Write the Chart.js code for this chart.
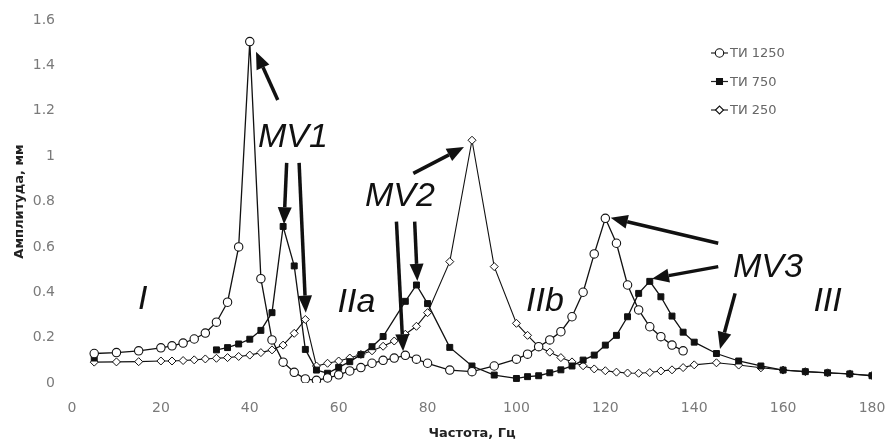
<!DOCTYPE html>
<html>
<head>
<meta charset="utf-8">
<script src="https://cdn.jsdelivr.net/npm/chart.js@4.4.0/dist/chart.umd.min.js"></script>
<style>
  html, body { margin: 0; padding: 0; background: #fff; }
  #wrap { width: 887px; height: 448px; }
</style>
</head>
<body>
<div id="wrap"><canvas id="chart" width="887" height="448"></canvas></div>
<script>
// series (frequency, Hz / amplitude, mm)
const freq1250 = [5, 10, 15, 20, 22.5, 25, 27.5, 30, 32.5, 35, 37.5, 40, 42.5, 45, 47.5, 50,
  52.5, 55, 57.5, 60, 62.5, 65, 67.5, 70, 72.5, 75, 77.5, 80, 85, 90, 95, 100,
  102.5, 105, 107.5, 110, 112.5, 115, 117.5, 120, 122.5, 125, 127.5, 130, 132.5, 135, 137.5];
const amp1250 = [0.13, 0.134, 0.142, 0.155, 0.164, 0.176, 0.194, 0.22, 0.268, 0.356, 0.60, 1.505, 0.46, 0.19, 0.092, 0.047,
  0.018, 0.012, 0.022, 0.036, 0.053, 0.068, 0.087, 0.10, 0.11, 0.122, 0.105, 0.087, 0.057, 0.05, 0.075, 0.105,
  0.127, 0.16, 0.19, 0.226, 0.292, 0.40, 0.569, 0.726, 0.616, 0.432, 0.322, 0.248, 0.204, 0.167, 0.142];

const freq750 = [5, 20, 32.5, 35, 37.5, 40, 42.5, 45, 47.5, 50, 52.5, 55, 57.5, 60, 62.5, 65, 67.5, 70,
  75, 77.5, 80, 85, 90, 95, 100,
  102.5, 105, 107.5, 110, 112.5, 115, 117.5, 120, 122.5, 125, 127.5, 130, 132.5, 135, 137.5, 140,
  145, 150, 155, 160, 165, 170, 175, 180];
const amp750 = [0.11, null, 0.146, 0.156, 0.172, 0.193, 0.232, 0.31, 0.69, 0.516, 0.148, 0.057, 0.043, 0.069, 0.094, 0.125, 0.16, 0.205,
  0.36, 0.432, 0.35, 0.157, 0.075, 0.035, 0.02,
  0.028, 0.032, 0.045, 0.058, 0.075, 0.101, 0.123, 0.167, 0.21, 0.292, 0.395, 0.448, 0.38, 0.295, 0.224, 0.18,
  0.13, 0.097, 0.075, 0.057, 0.05, 0.045, 0.04, 0.032];

const freq250 = [5, 10, 15, 20, 22.5, 25, 27.5, 30, 32.5, 35, 37.5, 40, 42.5, 45, 47.5, 50, 52.5, 55, 57.5,
  60, 62.5, 65, 67.5, 70, 72.5, 75, 77.5, 80, 85, 90, 95, 100,
  102.5, 105, 107.5, 110, 112.5, 115, 117.5, 120, 122.5, 125, 127.5, 130, 132.5, 135, 137.5, 140,
  145, 150, 155, 160, 165, 170, 175, 180];
const amp250 = [0.092, 0.093, 0.094, 0.097, 0.097, 0.099, 0.102, 0.106, 0.109, 0.112, 0.117, 0.123, 0.134, 0.146, 0.167, 0.219, 0.28, 0.075, 0.087,
  0.097, 0.11, 0.126, 0.142, 0.162, 0.185, 0.215, 0.25, 0.31, 0.535, 1.07, 0.513, 0.263,
  0.21, 0.16, 0.136, 0.112, 0.093, 0.076, 0.062, 0.054, 0.048, 0.044, 0.043, 0.046, 0.053, 0.058, 0.068, 0.08,
  0.089, 0.079, 0.067, 0.057, 0.05, 0.045, 0.04, 0.033];

const seriesNames = ["ТИ 1250", "ТИ 750", "ТИ 250"];

// text notes and arrows, in data units (Hz, mm)
const noteText = ["I", "MV1", "IIa", "MV2", "IIb", "MV3", "III"];
const noteX = [15.9, 49.7, 64, 73.8, 106.4, 156.6, 170];
const noteY = [0.366, 1.084, 0.353, 0.82, 0.357, 0.511, 0.361];
// [fromX, fromY, toX, toY]
const arrows = [
  [46.3, 1.247, 41.4, 1.46],
  [48.3, 0.97, 47.7, 0.70],
  [51.1, 0.97, 52.6, 0.31],
  [76.8, 0.924, 88.2, 1.04],
  [73, 0.711, 74.5, 0.14],
  [77.1, 0.711, 77.7, 0.45],
  [145.4, 0.616, 121.2, 0.728],
  [145.4, 0.513, 130.5, 0.46],
  [149.2, 0.395, 145.8, 0.15]
];

function toPoints(xs, ys) {
  return xs.map((x, i) => ({ x: x, y: ys[i] }));
}

function drawArrow(ctx, x1, y1, x2, y2) {
  const ang = Math.atan2(y2 - y1, x2 - x1);
  const headLen = 17, headW = 7;
  const bx = x2 - headLen * Math.cos(ang), by = y2 - headLen * Math.sin(ang);
  ctx.lineWidth = 3.5;
  ctx.beginPath();
  ctx.moveTo(x1, y1);
  ctx.lineTo(bx, by);
  ctx.stroke();
  ctx.beginPath();
  ctx.moveTo(x2, y2);
  ctx.lineTo(bx + headW * Math.sin(ang), by - headW * Math.cos(ang));
  ctx.lineTo(bx - headW * Math.sin(ang), by + headW * Math.cos(ang));
  ctx.closePath();
  ctx.fill();
}

const notesPlugin = {
  id: 'notes',
  afterDatasetsDraw(chart) {
    const ctx = chart.ctx;
    const xs = chart.scales.x, ys = chart.scales.y;
    ctx.save();
    ctx.fillStyle = '#111';
    ctx.strokeStyle = '#111';
    ctx.font = 'italic 34px "Liberation Sans", Arial, sans-serif';
    ctx.textAlign = 'center';
    ctx.textBaseline = 'middle';
    noteText.forEach((t, i) => {
      ctx.fillText(t, xs.getPixelForValue(noteX[i]), ys.getPixelForValue(noteY[i]));
    });
    arrows.forEach(a => {
      drawArrow(ctx, xs.getPixelForValue(a[0]), ys.getPixelForValue(a[1]),
        xs.getPixelForValue(a[2]), ys.getPixelForValue(a[3]));
    });

    // legend, top right inside the plot
    ctx.font = '13px "DejaVu Sans", sans-serif';
    ctx.textAlign = 'left';
    chart.data.datasets.forEach((ds, i) => {
      const ly = 53 + i * 28.5;
      ctx.strokeStyle = '#222';
      ctx.lineWidth = 1.2;
      ctx.beginPath();
      ctx.moveTo(711, ly);
      ctx.lineTo(728, ly);
      ctx.stroke();
      ctx.fillStyle = ds.pointBackgroundColor;
      ctx.strokeStyle = ds.pointBorderColor;
      ctx.lineWidth = 1.1;
      Chart.helpers.drawPoint(ctx, { pointStyle: ds.pointStyle, radius: ds.pointRadius, borderWidth: 1.1 }, 719.5, ly);
      ctx.fillStyle = '#666';
      ctx.fillText(ds.label, 730, ly + 1);
    });
    ctx.restore();
  }
};

const tickFont = { family: 'DejaVu Sans', size: 14 };
const titleFont = { family: 'DejaVu Sans', size: 13, weight: 'bold' };

new Chart(document.getElementById('chart'), {
  type: 'line',
  data: {
    datasets: [
      {
        label: seriesNames[0],
        data: toPoints(freq1250, amp1250),
        borderColor: '#111', borderWidth: 1.3,
        pointStyle: 'circle', pointRadius: 4.2,
        pointBackgroundColor: '#fff', pointBorderColor: '#111', pointBorderWidth: 1.1,
        tension: 0
      },
      {
        label: seriesNames[1],
        data: toPoints(freq750, amp750),
        borderColor: '#111', borderWidth: 1.3,
        pointStyle: 'rect', pointRadius: 4.2,
        pointBackgroundColor: '#111', pointBorderColor: '#111', pointBorderWidth: 1,
        spanGaps: false, tension: 0
      },
      {
        label: seriesNames[2],
        data: toPoints(freq250, amp250),
        borderColor: '#111', borderWidth: 1.1,
        pointStyle: 'rectRot', pointRadius: 4,
        pointBackgroundColor: '#fff', pointBorderColor: '#111', pointBorderWidth: 1,
        tension: 0
      }
    ]
  },
  options: {
    responsive: false,
    animation: false,
    layout: { padding: { top: 20, right: 15, bottom: 0, left: 0 } },
    plugins: {
      legend: { display: false },
      tooltip: { enabled: false }
    },
    scales: {
      x: {
        type: 'linear', min: 0, max: 180,
        grid: { display: false, drawTicks: false },
        border: { display: false },
        ticks: { stepSize: 20, color: '#7a7a7a', font: tickFont, padding: 17 },
        title: { display: true, text: 'Частота, Гц', color: '#222', font: titleFont, padding: { top: 4, bottom: 7 } },
        afterFit: s => { s.height = 65; s.paddingLeft = 0; s.paddingRight = 0; }
      },
      y: {
        min: 0, max: 1.6,
        grid: { display: false, drawTicks: false },
        border: { display: false },
        ticks: {
          stepSize: 0.2, color: '#7a7a7a', font: tickFont, padding: 17,
          callback: v => String(Math.round(v * 10) / 10)
        },
        title: { display: true, text: 'Амплитуда, мм', color: '#222', font: titleFont, padding: { top: 12, bottom: 4 } },
        afterFit: s => { s.width = 72; s.paddingTop = 0; s.paddingBottom = 0; }
      }
    }
  },
  plugins: [{
    id: 'whiteBg',
    beforeDraw(chart) {
      const c = chart.ctx;
      c.save();
      c.fillStyle = '#fff';
      c.fillRect(0, 0, chart.width, chart.height);
      c.restore();
    }
  }, notesPlugin]
});
</script>
</body>
</html>
